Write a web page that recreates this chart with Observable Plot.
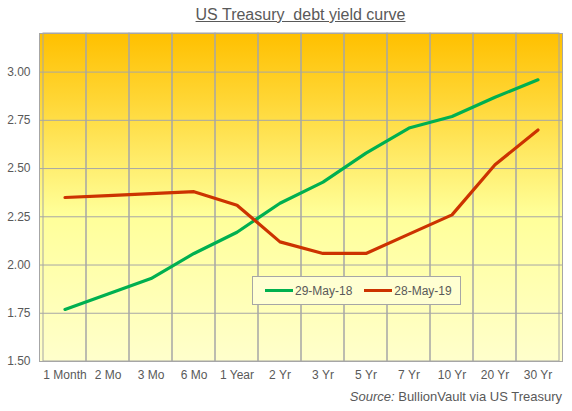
<!DOCTYPE html>
<html>
<head>
<meta charset="utf-8">
<script src="https://cdn.jsdelivr.net/npm/d3@7"></script>
<script src="https://cdn.jsdelivr.net/npm/@observablehq/plot@0.6"></script>
<style>
  body { margin: 0; background: #fff; font-family: "Liberation Sans", Arial, sans-serif; }
  #wrap { position: relative; width: 572px; height: 411px; }
  #title { height: 28px; line-height: 30px; margin-left: 39px; width: 523px; text-align: center;
           font-size: 16px; color: #595959; white-space: pre; }
  #title span { text-decoration: underline; }
  #caption { height: 28px; line-height: 28px; text-align: right; padding-right: 10px;
             font-size: 13px; color: #595959; }
  #legend { position: absolute; left: 252px; top: 276px; width: 207px; height: 27px;
            background: #FFFFD2; border: 1px solid #A6A6A6; display: flex; align-items: center;
            font-size: 12px; color: #595959; }
  .item { display: flex; align-items: center; }
  .swatch { width: 28px; height: 3px; margin-right: 2px; }
</style>
</head>
<body>
<div id="wrap">
  <div id="title"><span>US Treasury  debt yield curve</span></div>
  <div id="chart"></div>
  <div id="caption"><i>Source:</i> BullionVault via US Treasury</div>
  <div id="legend"></div>
</div>
<script>
const tenors = ["1 Month", "2 Mo", "3 Mo", "6 Mo", "1 Year", "2 Yr", "3 Yr", "5 Yr", "7 Yr", "10 Yr", "20 Yr", "30 Yr"];
const yields2018 = [1.77, 1.85, 1.93, 2.06, 2.17, 2.32, 2.43, 2.58, 2.71, 2.77, 2.87, 2.96];
const yields2019 = [2.35, 2.36, 2.37, 2.38, 2.31, 2.12, 2.06, 2.06, 2.16, 2.26, 2.52, 2.70];
const seriesNames = ["29-May-18", "28-May-19"];
const seriesColors = ["#00B050", "#CC3300"];
const yTicks = [1.5, 1.75, 2.0, 2.25, 2.5, 2.75, 3.0];
const yDomain = [1.5, 3.2];

const rows = [];
tenors.forEach((t, i) => rows.push({tenor: t, value: yields2018[i], series: seriesNames[0]}));
tenors.forEach((t, i) => rows.push({tenor: t, value: yields2019[i], series: seriesNames[1]}));

const gridColor = "#A6A6A6";

const chart = Plot.plot({
  width: 572,
  height: 355,
  marginTop: 5,
  marginBottom: 22,
  marginLeft: 39,
  marginRight: 10,
  style: {fontFamily: "'Liberation Sans', Arial, sans-serif", fontSize: "12px", color: "#595959", background: "transparent"},
  x: {type: "band", domain: tenors, padding: 0, tickSize: 0, tickPadding: 9, label: null},
  y: {domain: yDomain, ticks: yTicks, tickFormat: d3.format(".2f"), tickSize: 0, tickPadding: 9, label: null},
  color: {domain: seriesNames, range: seriesColors},
  marks: [
    Plot.frame({fill: "url(#bgGrad)", stroke: "none"}),
    Plot.cell(tenors, {x: d => d, fill: "none", stroke: gridColor, strokeWidth: 1, inset: 0}),
    Plot.ruleY(yTicks, {stroke: gridColor, strokeWidth: 1}),
    Plot.frame({stroke: gridColor, strokeWidth: 1}),
    Plot.line(rows, {x: "tenor", y: "value", z: "series", stroke: "series", strokeWidth: 3.2, strokeLinecap: "round", strokeLinejoin: "round"})
  ]
});

// background gradient definition
const ns = "http://www.w3.org/2000/svg";
const defs = document.createElementNS(ns, "defs");
const grad = document.createElementNS(ns, "linearGradient");
grad.setAttribute("id", "bgGrad");
grad.setAttribute("x1", "0"); grad.setAttribute("y1", "0");
grad.setAttribute("x2", "0"); grad.setAttribute("y2", "1");
[["0%", "#FFC000"], ["20%", "#FFD634"], ["55%", "#FFFF99"], ["100%", "#FFFFCC"]].forEach(([o, c]) => {
  const s = document.createElementNS(ns, "stop");
  s.setAttribute("offset", o);
  s.setAttribute("stop-color", c);
  grad.appendChild(s);
});
defs.appendChild(grad);
chart.insertBefore(defs, chart.firstChild);
document.getElementById("chart").appendChild(chart);

// legend
const legend = document.getElementById("legend");
seriesNames.forEach((name, i) => {
  const item = document.createElement("div");
  item.className = "item";
  item.style.marginLeft = i === 0 ? "12px" : "12px";
  const sw = document.createElement("div");
  sw.className = "swatch";
  sw.style.background = seriesColors[i];
  const label = document.createElement("span");
  label.textContent = name;
  item.appendChild(sw);
  item.appendChild(label);
  legend.appendChild(item);
});
</script>
</body>
</html>
